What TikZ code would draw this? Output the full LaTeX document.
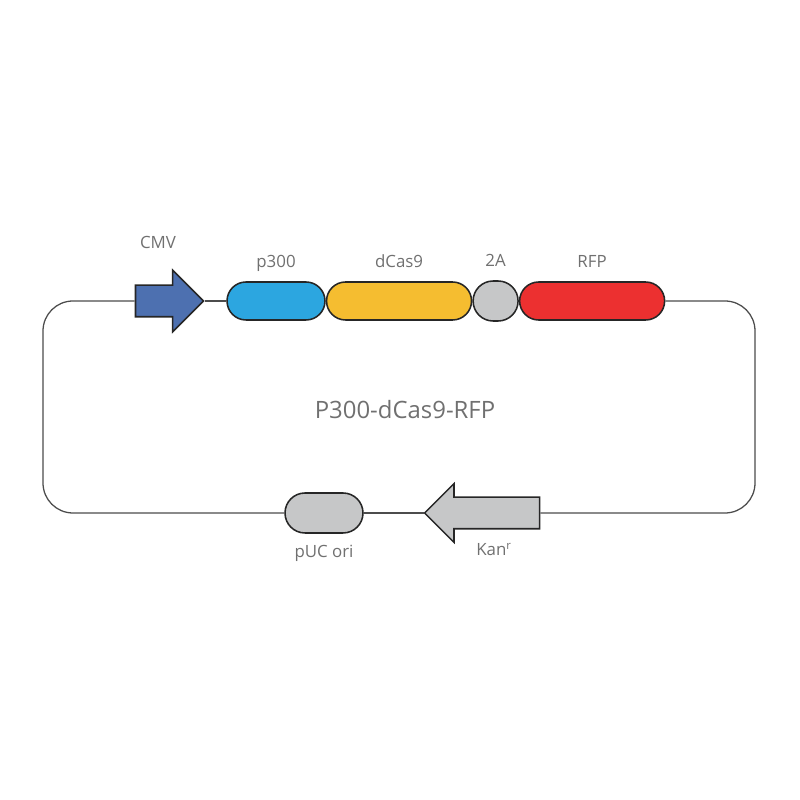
\documentclass[tikz,border=0pt]{standalone}
\usepackage{fontspec}
\setmainfont{Open Sans}
\usepackage{xcolor}
\usetikzlibrary{shapes.misc, shapes.arrows, positioning}

\definecolor{cmvblue}{HTML}{4D70B0}
\definecolor{pblue}{HTML}{2CA6E0}
\definecolor{casyellow}{HTML}{F5BD30}
\definecolor{rfpred}{HTML}{EC3030}
\definecolor{partgray}{HTML}{C6C7C8}
\definecolor{textgray}{HTML}{707070}

\begin{document}
\begin{tikzpicture}[
    node distance=0pt,
    part/.style={rounded rectangle, draw=black!85, line width=1.1pt,
                 minimum height=0.95cm, inner sep=0pt},
    promoter/.style={single arrow, draw=black!85, line width=1.1pt,
                     inner xsep=0pt, inner ysep=0.375cm,
                     single arrow head extend=0.375cm,
                     single arrow head indent=0pt},
    backbone/.style={draw=black!70, line width=0.9pt, rounded corners=0.75cm},
    tag/.style={font=\fontsize{12}{14}\selectfont, text=textgray,
                inner sep=0pt, text height=0.3cm, text depth=0.06cm},
]
\useasboundingbox (0,0) rectangle (20,20);

% ── Top row: expression cassette ──
\node[promoter, fill=cmvblue, minimum height=1.7cm]
  (cmv) at (4.04,12.475) {};
\node[part, fill=pblue, minimum width=2.45cm] (p300) at (6.9,12.475) {};
\node[part, fill=casyellow, minimum width=3.625cm, right=of p300] (dcas9) {};
\node[part, fill=partgray, minimum width=1.125cm, minimum height=1cm,
  right=of dcas9] (twoa) {};
\node[part, fill=rfpred, minimum width=3.625cm, right=of twoa] (rfp) {};

% ── Bottom row: backbone elements ──
\node[part, fill=partgray, minimum width=1.95cm, minimum height=1cm]
  (puc) at (8.1,7.175) {};
\node[promoter, fill=partgray, shape border rotate=180,
  minimum height=2.875cm, single arrow head extend=0.34cm]
  (kan) at (12.25,7.175) {};

% ── Plasmid backbone ──
\coordinate (rightside) at (18.875,9.8);
\coordinate (leftside) at (1.075,9.8);
\draw[backbone] (cmv.tip) -- (p300.west);
\draw[backbone] (rfp.east) -| (rightside) |- (kan.tail);
\draw[backbone] (kan.tip) -- (puc.east);
\draw[backbone] (puc.west) -| (leftside) |- (cmv.tail);

% ── Labels ──
\node[tag] (cmvlbl) at (3.95,13.9) {CMV};
\node[tag, above=0.28cm of p300] (p300lbl) {p300};
\node[tag, above=0.28cm of dcas9] (dcas9lbl) {dCas9};
\node[tag, above=0.28cm of twoa] (twoalbl) {2A};
\node[tag, above=0.28cm of rfp] (rfplbl) {RFP};
\node[tag, below=0.28cm of puc] (puclbl) {pUC ori};
\node[tag] (kanlbl) at (12.35,6.22) {Kan\textsuperscript{r}};
\node[font=\fontsize{17}{20}\selectfont, text=textgray] (title)
  at (10.125,9.75) {P300-dCas9-RFP};

\end{tikzpicture}
\end{document}
